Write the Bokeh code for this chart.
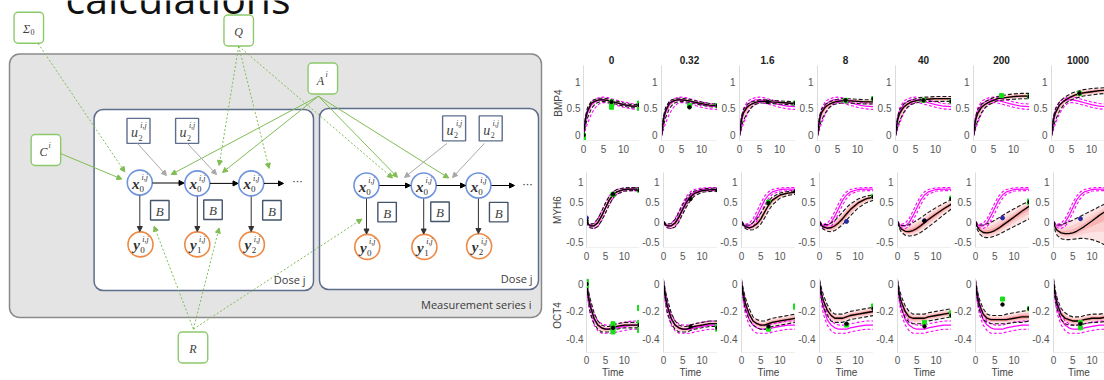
import numpy as np
from bokeh.plotting import figure
from bokeh.layouts import row, column
from bokeh.models import (Range1d, FixedTicker, Arrow, NormalHead,
                          ColumnDataSource, CustomJSTickFormatter)
from bokeh.core.properties import value
from bokeh.embed import file_html
from bokeh.resources import INLINE

# ---------------------------------------------------------------- data
DOSES = ["0", "0.32", "1.6", "8", "40", "200", "1000"]
GENES = ["BMP4", "MYH6", "OCT4"]
T = [0, 0.5, 1, 2, 3, 4, 5, 6, 7, 8, 10, 12, 14]
X_TICKS = [0, 5, 10]
Y_TICKS = [[0, 0.5, 1], [-0.5, 0, 0.5, 1], [-0.4, -0.2, 0]]
Y_LIMS = [(-0.1, 1.3), (-0.65, 1.25), (-0.5, 0.04)]

# reference (magenta) model, one per gene
BMP4_REF_MEAN = [0.00, 0.25, 0.42, 0.57, 0.63, 0.66, 0.66, 0.65, 0.63, 0.61, 0.57, 0.54, 0.53]
BMP4_REF_UP = [0.02, 0.33, 0.50, 0.63, 0.68, 0.70, 0.71, 0.70, 0.68, 0.66, 0.62, 0.59, 0.58]
BMP4_REF_LO = [-0.02, 0.10, 0.22, 0.40, 0.52, 0.59, 0.61, 0.60, 0.58, 0.56, 0.52, 0.49, 0.48]
MYH6_REF_MEAN = [0.00, -0.07, -0.10, -0.10, -0.02, 0.15, 0.35, 0.55, 0.68, 0.76, 0.82, 0.83, 0.83]
MYH6_REF_UP = [0.02, -0.04, -0.06, -0.04, 0.08, 0.27, 0.48, 0.65, 0.76, 0.82, 0.86, 0.87, 0.87]
MYH6_REF_LO = [-0.02, -0.10, -0.15, -0.17, -0.12, 0.03, 0.22, 0.43, 0.59, 0.70, 0.78, 0.79, 0.79]
OCT4_REF_MEAN = [0.01, -0.10, -0.17, -0.26, -0.30, -0.32, -0.33, -0.33, -0.33, -0.32, -0.31, -0.30, -0.30]
OCT4_REF_UP = [0.03, -0.06, -0.13, -0.22, -0.27, -0.29, -0.30, -0.30, -0.30, -0.29, -0.28, -0.27, -0.27]
OCT4_REF_LO = [-0.01, -0.14, -0.22, -0.30, -0.34, -0.36, -0.36, -0.36, -0.36, -0.35, -0.34, -0.33, -0.33]

# fitted model (black) per dose
BMP4_MEAN = [
    [0.00, 0.30, 0.45, 0.60, 0.64, 0.66, 0.66, 0.65, 0.63, 0.61, 0.57, 0.54, 0.54],
    [0.00, 0.30, 0.45, 0.60, 0.64, 0.66, 0.66, 0.65, 0.64, 0.62, 0.59, 0.56, 0.55],
    [0.00, 0.30, 0.42, 0.53, 0.58, 0.61, 0.63, 0.63, 0.63, 0.62, 0.61, 0.60, 0.59],
    [0.00, 0.30, 0.42, 0.53, 0.58, 0.61, 0.63, 0.64, 0.64, 0.64, 0.63, 0.62, 0.62],
    [0.00, 0.28, 0.40, 0.52, 0.58, 0.62, 0.64, 0.66, 0.67, 0.67, 0.68, 0.68, 0.68],
    [0.00, 0.28, 0.40, 0.52, 0.58, 0.62, 0.65, 0.68, 0.69, 0.70, 0.72, 0.73, 0.73],
    [0.00, 0.30, 0.42, 0.56, 0.63, 0.68, 0.72, 0.75, 0.77, 0.79, 0.81, 0.83, 0.84]]
BMP4_UP = [
    [0.02, 0.36, 0.51, 0.64, 0.67, 0.69, 0.69, 0.68, 0.66, 0.64, 0.60, 0.57, 0.57],
    [0.02, 0.36, 0.51, 0.64, 0.67, 0.69, 0.69, 0.68, 0.67, 0.65, 0.62, 0.59, 0.58],
    [0.02, 0.36, 0.48, 0.58, 0.62, 0.64, 0.66, 0.66, 0.66, 0.65, 0.64, 0.63, 0.62],
    [0.02, 0.36, 0.48, 0.58, 0.62, 0.65, 0.67, 0.68, 0.68, 0.68, 0.67, 0.66, 0.66],
    [0.02, 0.34, 0.47, 0.58, 0.63, 0.66, 0.68, 0.70, 0.71, 0.71, 0.72, 0.72, 0.72],
    [0.02, 0.34, 0.47, 0.58, 0.63, 0.67, 0.70, 0.72, 0.74, 0.75, 0.77, 0.78, 0.78],
    [0.02, 0.36, 0.49, 0.62, 0.69, 0.74, 0.78, 0.81, 0.83, 0.85, 0.87, 0.88, 0.89]]
BMP4_LO = [
    [-0.02, 0.18, 0.32, 0.50, 0.59, 0.62, 0.63, 0.62, 0.60, 0.58, 0.54, 0.51, 0.51],
    [-0.02, 0.18, 0.32, 0.50, 0.59, 0.62, 0.63, 0.62, 0.61, 0.59, 0.56, 0.53, 0.52],
    [-0.02, 0.16, 0.28, 0.42, 0.52, 0.57, 0.60, 0.60, 0.60, 0.59, 0.58, 0.57, 0.56],
    [-0.02, 0.16, 0.28, 0.42, 0.52, 0.57, 0.59, 0.60, 0.60, 0.60, 0.59, 0.58, 0.58],
    [-0.02, 0.14, 0.26, 0.42, 0.52, 0.57, 0.60, 0.62, 0.63, 0.63, 0.63, 0.63, 0.63],
    [-0.02, 0.14, 0.26, 0.42, 0.52, 0.57, 0.61, 0.64, 0.65, 0.66, 0.67, 0.68, 0.68],
    [-0.02, 0.16, 0.28, 0.45, 0.56, 0.62, 0.66, 0.69, 0.71, 0.73, 0.75, 0.77, 0.78]]

MYH6_MEAN = [
    [0.02, -0.06, -0.10, -0.10, -0.02, 0.15, 0.35, 0.55, 0.68, 0.76, 0.82, 0.83, 0.83],
    [0.00, -0.07, -0.10, -0.10, -0.03, 0.12, 0.32, 0.50, 0.63, 0.72, 0.79, 0.81, 0.82],
    [0.00, -0.08, -0.12, -0.15, -0.12, -0.05, 0.07, 0.25, 0.42, 0.55, 0.68, 0.73, 0.75],
    [0.00, -0.09, -0.13, -0.16, -0.15, -0.10, -0.02, 0.08, 0.20, 0.31, 0.48, 0.58, 0.63],
    [0.00, -0.12, -0.18, -0.24, -0.25, -0.22, -0.17, -0.10, -0.02, 0.06, 0.20, 0.33, 0.45],
    [0.00, -0.13, -0.20, -0.27, -0.28, -0.26, -0.22, -0.16, -0.09, -0.02, 0.12, 0.27, 0.40],
    [0.00, -0.15, -0.22, -0.28, -0.30, -0.30, -0.28, -0.24, -0.18, -0.12, 0.02, 0.17, 0.30]]
MYH6_UP = [
    [0.04, -0.03, -0.06, -0.04, 0.08, 0.27, 0.47, 0.65, 0.76, 0.82, 0.86, 0.87, 0.87],
    [0.02, -0.04, -0.06, -0.04, 0.06, 0.24, 0.44, 0.60, 0.71, 0.78, 0.83, 0.85, 0.86],
    [0.02, -0.05, -0.08, -0.08, -0.02, 0.08, 0.22, 0.38, 0.53, 0.63, 0.73, 0.77, 0.78],
    [0.02, -0.05, -0.07, -0.07, -0.03, 0.04, 0.14, 0.25, 0.36, 0.45, 0.58, 0.65, 0.68],
    [0.02, -0.07, -0.09, -0.10, -0.07, -0.02, 0.04, 0.10, 0.17, 0.24, 0.36, 0.47, 0.56],
    [0.02, -0.06, -0.08, -0.08, -0.05, -0.01, 0.04, 0.10, 0.16, 0.22, 0.33, 0.44, 0.52],
    [0.02, -0.06, -0.08, -0.07, -0.04, 0.00, 0.04, 0.09, 0.14, 0.19, 0.29, 0.39, 0.48]]
MYH6_LO = [
    [0.00, -0.10, -0.15, -0.17, -0.12, 0.03, 0.22, 0.43, 0.60, 0.70, 0.78, 0.79, 0.79],
    [-0.02, -0.10, -0.15, -0.17, -0.13, 0.00, 0.20, 0.39, 0.54, 0.65, 0.75, 0.77, 0.78],
    [-0.02, -0.11, -0.17, -0.21, -0.20, -0.15, -0.06, 0.10, 0.28, 0.43, 0.60, 0.67, 0.70],
    [-0.02, -0.13, -0.19, -0.24, -0.25, -0.22, -0.15, -0.07, 0.04, 0.15, 0.35, 0.48, 0.55],
    [-0.02, -0.17, -0.26, -0.34, -0.36, -0.35, -0.32, -0.27, -0.20, -0.13, 0.02, 0.18, 0.33],
    [-0.02, -0.20, -0.30, -0.39, -0.40, -0.39, -0.36, -0.32, -0.27, -0.22, -0.12, -0.02, 0.08],
    [-0.02, -0.25, -0.35, -0.43, -0.45, -0.45, -0.44, -0.43, -0.42, -0.42, -0.45, -0.52, -0.62]]

OCT4_MEAN = [
    [0.01, -0.09, -0.16, -0.25, -0.30, -0.32, -0.33, -0.33, -0.32, -0.31, -0.30, -0.30, -0.30],
    [0.01, -0.09, -0.16, -0.25, -0.30, -0.32, -0.33, -0.33, -0.32, -0.31, -0.30, -0.29, -0.29],
    [0.01, -0.08, -0.14, -0.22, -0.27, -0.29, -0.30, -0.30, -0.29, -0.28, -0.27, -0.26, -0.25],
    [0.01, -0.07, -0.12, -0.19, -0.23, -0.25, -0.25, -0.25, -0.24, -0.23, -0.22, -0.21, -0.20],
    [0.01, -0.08, -0.13, -0.20, -0.24, -0.25, -0.25, -0.25, -0.25, -0.24, -0.23, -0.22, -0.21],
    [0.01, -0.09, -0.15, -0.22, -0.25, -0.26, -0.26, -0.26, -0.26, -0.26, -0.25, -0.24, -0.24],
    [0.02, -0.09, -0.15, -0.22, -0.25, -0.26, -0.27, -0.27, -0.27, -0.26, -0.25, -0.25, -0.24]]
OCT4_UP = [
    [0.03, -0.05, -0.11, -0.21, -0.27, -0.30, -0.31, -0.31, -0.30, -0.29, -0.28, -0.28, -0.28],
    [0.03, -0.05, -0.11, -0.21, -0.27, -0.30, -0.31, -0.31, -0.30, -0.29, -0.28, -0.27, -0.27],
    [0.03, -0.04, -0.10, -0.18, -0.24, -0.26, -0.27, -0.27, -0.26, -0.25, -0.24, -0.23, -0.22],
    [0.03, -0.03, -0.08, -0.15, -0.20, -0.22, -0.22, -0.22, -0.21, -0.20, -0.19, -0.18, -0.17],
    [0.03, -0.04, -0.09, -0.16, -0.20, -0.22, -0.22, -0.22, -0.22, -0.21, -0.20, -0.19, -0.18],
    [0.03, -0.05, -0.11, -0.18, -0.22, -0.23, -0.23, -0.23, -0.23, -0.22, -0.21, -0.20, -0.19],
    [0.04, -0.05, -0.11, -0.18, -0.21, -0.23, -0.24, -0.24, -0.24, -0.23, -0.22, -0.22, -0.21]]
OCT4_LO = [
    [-0.01, -0.13, -0.21, -0.29, -0.33, -0.35, -0.35, -0.35, -0.34, -0.33, -0.32, -0.32, -0.32],
    [-0.01, -0.13, -0.21, -0.29, -0.33, -0.35, -0.35, -0.35, -0.34, -0.33, -0.32, -0.31, -0.31],
    [-0.01, -0.12, -0.19, -0.26, -0.30, -0.32, -0.33, -0.33, -0.32, -0.31, -0.30, -0.29, -0.28],
    [-0.01, -0.11, -0.17, -0.23, -0.27, -0.28, -0.28, -0.28, -0.27, -0.26, -0.25, -0.24, -0.23],
    [-0.01, -0.12, -0.18, -0.25, -0.28, -0.29, -0.29, -0.29, -0.28, -0.27, -0.26, -0.25, -0.24],
    [-0.01, -0.13, -0.19, -0.26, -0.28, -0.29, -0.29, -0.29, -0.29, -0.29, -0.28, -0.28, -0.27],
    [0.00, -0.13, -0.19, -0.26, -0.29, -0.30, -0.30, -0.30, -0.30, -0.29, -0.28, -0.28, -0.27]]

# measurements: replicate (green), mean (black), extra (blue)
BMP4_GREEN_COL = [0, 0, 0, 0, 0, 0, 0, 0, 0, 1, 1, 2, 3, 3, 4, 4, 5, 5, 6]
BMP4_GREEN_T = [0, 0, 0, 7, 7, 7, 14, 14, 14, 7, 14, 14, 7, 14, 7, 14, 7, 14, 7]
BMP4_GREEN_Y = [0.00, -0.04, -0.07, 0.62, 0.56, 0.52, 0.60, 0.55, 0.50, 0.55, 0.55, 0.60,
                0.65, 0.68, 0.65, 0.63, 0.74, 0.72, 0.78]
BMP4_BLACK_COL = [0, 0, 0, 1, 1, 2, 2, 3, 3, 4, 4, 5, 6]
BMP4_BLACK_T = [0, 7, 14, 7, 14, 7, 14, 7, 14, 7, 14, 14, 7]
BMP4_BLACK_Y = [0.00, 0.62, 0.56, 0.52, 0.55, 0.62, 0.60, 0.65, 0.68, 0.65, 0.63, 0.72, 0.78]
BMP4_BLUE_COL, BMP4_BLUE_T, BMP4_BLUE_Y = [], [], []

MYH6_GREEN_COL = [0, 0, 2, 3, 4, 5, 5]
MYH6_GREEN_T = [7, 14, 7, 14, 14, 14, 14]
MYH6_GREEN_Y = [0.70, 0.80, 0.50, 0.65, 0.60, 0.53, 0.49]
MYH6_BLACK_COL = [0, 0, 0, 1, 1, 2, 2, 3, 4, 4, 5]
MYH6_BLACK_T = [0, 7, 14, 7, 14, 7, 14, 14, 7, 14, 14]
MYH6_BLACK_Y = [0.03, 0.70, 0.80, 0.58, 0.80, 0.48, 0.77, 0.63, 0.02, 0.58, 0.50]
MYH6_BLUE_COL = [0, 3, 4, 5, 6]
MYH6_BLUE_T = [0, 7, 7, 7, 7]
MYH6_BLUE_Y = [0.10, 0.01, 0.03, 0.10, 0.08]

OCT4_GREEN_COL = [0, 0, 0, 0, 0, 0, 0, 0, 0, 0, 0, 0, 1, 1, 2, 2, 2, 3, 3, 4, 4, 4, 5, 5, 6, 6]
OCT4_GREEN_T = [0, 0, 0, 7, 7, 7, 7, 14, 14, 14, 14, 14, 14, 14, 7, 14, 14, 7, 14, 7, 14, 14,
                7, 14, 7, 7]
OCT4_GREEN_Y = [0.02, 0.00, -0.01, -0.29, -0.31, -0.33, -0.35, -0.17, -0.18, -0.28, -0.30,
                -0.34, -0.31, -0.33, -0.33, -0.16, -0.17, -0.30, -0.16, -0.28, -0.21, -0.23,
                -0.11, -0.18, -0.28, -0.32]
OCT4_BLACK_COL = [0, 0, 0, 1, 1, 2, 3, 3, 4, 4, 5, 5, 6]
OCT4_BLACK_T = [0, 7, 14, 7, 14, 7, 7, 14, 7, 14, 7, 14, 7]
OCT4_BLACK_Y = [0.00, -0.32, -0.30, -0.31, -0.32, -0.31, -0.29, -0.18, -0.31, -0.23, -0.15,
                -0.18, -0.29]
OCT4_BLUE_COL, OCT4_BLUE_T, OCT4_BLUE_Y = [], [], []

ROWS = [
    dict(ref=(BMP4_REF_MEAN, BMP4_REF_UP, BMP4_REF_LO), fit=(BMP4_MEAN, BMP4_UP, BMP4_LO),
         green=(BMP4_GREEN_COL, BMP4_GREEN_T, BMP4_GREEN_Y),
         black=(BMP4_BLACK_COL, BMP4_BLACK_T, BMP4_BLACK_Y),
         blue=(BMP4_BLUE_COL, BMP4_BLUE_T, BMP4_BLUE_Y)),
    dict(ref=(MYH6_REF_MEAN, MYH6_REF_UP, MYH6_REF_LO), fit=(MYH6_MEAN, MYH6_UP, MYH6_LO),
         green=(MYH6_GREEN_COL, MYH6_GREEN_T, MYH6_GREEN_Y),
         black=(MYH6_BLACK_COL, MYH6_BLACK_T, MYH6_BLACK_Y),
         blue=(MYH6_BLUE_COL, MYH6_BLUE_T, MYH6_BLUE_Y)),
    dict(ref=(OCT4_REF_MEAN, OCT4_REF_UP, OCT4_REF_LO), fit=(OCT4_MEAN, OCT4_UP, OCT4_LO),
         green=(OCT4_GREEN_COL, OCT4_GREEN_T, OCT4_GREEN_Y),
         black=(OCT4_BLACK_COL, OCT4_BLACK_T, OCT4_BLACK_Y),
         blue=(OCT4_BLUE_COL, OCT4_BLUE_T, OCT4_BLUE_Y)),
]

# ---------------------------------------------------------------- panel layout
BORDER_TOP = [65, 12, 11]
BORDER_BOTTOM = [20, 20, 27]
FRAME_H = 75
FRAME_W = [56, 56, 56, 56, 56, 56, 53]
BORDER_LEFT = [34, 22, 22, 22, 22, 22, 22]
X_END = [14, 14, 14, 14, 14, 14, 13.25]
SANS = "Liberation Sans"


def pick(cols, ts, ys, c):
    xs = [t for cc, t in zip(cols, ts) if cc == c]
    yy = [y for cc, y in zip(cols, ys) if cc == c]
    return xs, yy


def make_panel(r, c):
    ylo, yhi = Y_LIMS[r]
    p = figure(width=BORDER_LEFT[c] + FRAME_W[c],
               height=BORDER_TOP[r] + FRAME_H + BORDER_BOTTOM[r],
               x_range=Range1d(0, X_END[c]), y_range=Range1d(ylo, yhi),
               output_backend="svg", toolbar_location=None,
               title=DOSES[c] if r == 0 else None,
               min_border_left=BORDER_LEFT[c], min_border_right=0,
               min_border_top=BORDER_TOP[r], min_border_bottom=BORDER_BOTTOM[r])
    p.outline_line_color = None
    p.grid.visible = False
    p.background_fill_color = "white"
    p.border_fill_color = "white"
    if r == 0:
        p.title.align = "center"
        p.title.text_font = SANS
        p.title.text_font_size = "10px"
        p.title.text_font_style = "bold"
        p.title.text_color = "#222222"
        p.title.standoff = 3
        p.title.offset = 0
    p.xaxis.ticker = FixedTicker(ticks=X_TICKS)
    p.yaxis.ticker = FixedTicker(ticks=Y_TICKS[r])
    fmt = "return tick.toString();"
    p.xaxis.formatter = CustomJSTickFormatter(code=fmt)
    p.yaxis.formatter = CustomJSTickFormatter(code=fmt)
    for ax in (p.xaxis[0], p.yaxis[0]):
        ax.major_tick_line_color = None
        ax.minor_tick_line_color = None
        ax.major_tick_out = 0
        ax.major_tick_in = 0
        ax.minor_tick_out = 0
        ax.minor_tick_in = 0
        ax.major_label_text_font = SANS
        ax.major_label_text_font_size = "10px"
        ax.major_label_text_color = "#555555"
        ax.axis_label_text_font = SANS
        ax.axis_label_text_font_size = "10px"
        ax.axis_label_text_font_style = "normal"
        ax.axis_label_text_color = "#444444"
        ax.axis_label_standoff = 0
    p.yaxis.axis_line_color = "#dcdcdc"
    p.xaxis.axis_line_color = "#efefef"
    p.yaxis.major_label_standoff = 3 if c == 0 else 4
    p.xaxis.major_label_standoff = 3 if r == 2 else 4
    if c == 0:
        p.yaxis.axis_label = GENES[r]
    if r == 2:
        p.xaxis.axis_label = "Time"

    tt = np.array(T, dtype=float)
    data = ROWS[r]
    fm, fu, fl = (np.array(a[c]) for a in data["fit"])
    rm, ru, rl = (np.array(a) for a in data["ref"])

    # density-like band around the fitted mean: a wide band fades out
    scale = FRAME_H / (yhi - ylo)
    spread_px = float(np.mean(fu - fl)) * scale
    a_in = float(np.clip(4.0 / spread_px, 0.15, 0.75))
    p.varea(x=tt, y1=fl, y2=fu, fill_color="#fcdada", fill_alpha=0.75)
    p.varea(x=tt, y1=fm - (fm - fl) * 0.6, y2=fm + (fu - fm) * 0.6,
            fill_color="#f7a8a8", fill_alpha=min(0.6, a_in + 0.1))
    p.varea(x=tt, y1=fm - (fm - fl) * 0.28, y2=fm + (fu - fm) * 0.28,
            fill_color="#ee3b3b", fill_alpha=a_in)

    # reference model (magenta)
    for arr in (ru, rl):
        p.line(tt, arr, line_color="#ff00ff", line_width=1.1, line_dash="3 2")
    p.line(tt, rm, line_color="#ff00ff", line_width=1.2)

    # fitted model (black)
    for arr in (fu, fl):
        p.line(tt, arr, line_color="#1a1a1a", line_width=1.1, line_dash="4 2")
    p.line(tt, fm, line_color="black", line_width=1.3)

    gx, gy = pick(*data["green"], c)
    p.scatter(gx, gy, marker="square", size=4, fill_color="#18e018", line_color="#18e018")
    bx, by = pick(*data["blue"], c)
    p.scatter(bx, by, marker="circle", size=4, fill_color="#2a2aa0", line_color="#2a2aa0")
    kx, ky = pick(*data["black"], c)
    p.scatter(kx, ky, marker="circle", size=3.5, fill_color="black", line_color="black")
    return p


grid = column([row([make_panel(r, c) for c in range(7)]) for r in range(3)])

# ---------------------------------------------------------------- diagram
d = figure(width=549, height=380, x_range=Range1d(0, 549), y_range=Range1d(380, 0),
           output_backend="svg", toolbar_location=None, x_axis_location=None,
           y_axis_location=None, min_border=0)
d.grid.visible = False
d.outline_line_color = None
d.background_fill_color = "white"
d.border_fill_color = "white"

SERIF = value("Liberation Serif")

# heading text (cut off at the top, as in the slide)
d.text(x=[65], y=[-3], text=["calculations"], text_font=value("Open Sans"),
       text_font_size="41px", text_baseline="alphabetic", text_align="left",
       text_color="#111111")

# containers
d.quad(left=[9], right=[541], top=[53.5], bottom=[317], fill_color="#e4e4e4",
       line_color="#8a8a8a", line_width=1.5, border_radius=10)
d.quad(left=[93.6, 319], right=[313, 538], top=[109, 108], bottom=[290, 289],
       fill_color="white", line_color="#5e6d8c", line_width=1.5, border_radius=9)
d.text(x=[305, 532], y=[279, 278], text=["Dose j", "Dose j"], text_font=value("Open Sans"),
       text_font_size="11px", text_align="right", text_baseline="middle", text_color="#3a3a3a")
d.text(x=[531], y=[304], text=["Measurement series i"], text_font=value("Open Sans"),
       text_font_size="11px", text_align="right", text_baseline="middle", text_color="#3a3a3a")


def arrows(x0, y0, x1, y1, color, dash="solid", width=1.0, head=5):
    src = ColumnDataSource(dict(x0=x0, y0=y0, x1=x1, y1=y1))
    d.add_layout(Arrow(end=NormalHead(size=head, fill_color=color, line_color=color),
                       x_start="x0", y_start="y0", x_end="x1", y_end="y1", source=src,
                       line_color=color, line_width=width, line_dash=dash))


GREEN = "#80bd55"
arrows([60, 317.9, 317.9, 317.9, 317.9], [153, 95.7, 95.7, 95.7, 95.7],
       [121.4, 170.7, 222, 397, 448.2], [178.6, 174, 172, 176.8, 177.5], GREEN)
arrows([37.5, 238.2, 238.2, 238.2, 192.9, 192.9, 192.9],
       [42.9, 45.7, 45.7, 45.7, 328.6, 328.6, 328.6],
       [124.3, 218.6, 268.6, 392, 153.6, 218.6, 361.4],
       [171.4, 165, 167.9, 177.5, 225.7, 227.5, 218.6], GREEN, dash="2 2")
arrows([137, 187, 446.4, 483.9], [143, 143, 142.9, 142.9],
       [166, 216, 404, 452], [175, 174, 177, 177], "#a8a8a8")
arrows([152, 209.5, 263.5, 379, 436, 491], [182.5, 182.9, 182.9, 185, 185, 185],
       [183.5, 237.5, 283, 410, 465, 514], [182.5, 182.9, 182.9, 185, 185, 185], "black")
arrows([139.3, 196.8, 250.7, 366, 423.2, 477.9], [195, 196, 196, 198, 198, 198],
       [139.3, 196.8, 250.7, 366, 423.2, 477.9], [231, 231, 231, 233.5, 233.5, 233],
       "#333333")
d.text(x=[297, 527], y=[181, 184], text=["···", "···"], text_font=value("DejaVu Sans"),
       text_font_size="11px", text_align="center", text_baseline="middle", text_color="#333")

# green parameter boxes
GX = [28.3, 238.2, 322.3, 45.4, 192.5]
GY = [27.2, 30, 78, 149.5, 347]
d.rect(x=GX, y=GY, width=29.5, height=31, fill_color="white", line_color="#8cc96b",
       line_width=1.4, border_radius=4)
d.text(x=[26, 238.2, 320, 43, 192.5], y=[28, 31, 80, 151, 348],
       text=["Σ", "Q", "A", "C", "R"], text_font=SERIF, text_font_style="italic",
       text_font_size="12px", text_align="center", text_baseline="middle", text_color="#404040")
d.text(x=[32], y=[31], text=["0"], text_font=SERIF, text_font_size="8px",
       text_align="center", text_baseline="middle", text_color="#404040")
d.text(x=[326, 49], y=[74, 145], text=["i", "i"], text_font=SERIF, text_font_style="italic",
       text_font_size="8px", text_align="center", text_baseline="middle", text_color="#404040")

# u boxes and B boxes
UX = [138, 186.6, 453.6, 490.2]
UY = [130.4, 130.4, 127.9, 127.9]
d.rect(x=UX, y=UY, width=23, height=25, fill_color="white", line_color="#5e6d8c",
       line_width=1.4)
d.text(x=[v - 4 for v in UX], y=[v + 2 for v in UY], text=["u"] * 4, text_font=SERIF,
       text_font_style="italic", text_font_size="14px", text_align="center",
       text_baseline="middle", text_color="#404040")
d.text(x=[v + 2 for v in UX], y=[v + 7 for v in UY], text=["2"] * 4, text_font=SERIF,
       text_font_size="8px", text_align="center", text_baseline="middle", text_color="#404040")
d.text(x=[v + 5 for v in UX], y=[v - 5 for v in UY], text=["i,j"] * 4, text_font=SERIF,
       text_font_style="italic", text_font_size="8px", text_align="center",
       text_baseline="middle", text_color="#404040")

BX = [159.3, 212.5, 271.4, 386.6, 439.5, 498.2]
BY = [209.8, 209.3, 209.8, 211.6, 211.3, 211.6]
d.rect(x=BX, y=BY, width=18.5, height=19.5, fill_color="white", line_color="#44546a",
       line_width=1.4)
d.text(x=BX, y=[v + 1 for v in BY], text=["B"] * 6, text_font=SERIF, text_font_style="italic",
       text_font_size="13px", text_align="center", text_baseline="middle", text_color="#404040")

# state and observation nodes
XX = [139.3, 196.8, 250.7, 366, 423.2, 477.9]
XY = [182.1, 182.9, 182.9, 185, 185, 185]
YX = [140, 196.8, 251.4, 366.8, 423.9, 478.6]
YY = [243.9, 243.9, 243.9, 246.4, 246.4, 245.7]
d.circle(x=XX, y=XY, radius=12.5, fill_color="white", line_color="#7094dc", line_width=1.6)
d.circle(x=YX, y=YY, radius=12.5, fill_color="white", line_color="#ee8a45", line_width=1.6)
for nx, ny, letter, subs in ((XX, XY, "x", ["0"] * 6),
                             (YX, YY, "y", ["0", "1", "2", "0", "1", "2"])):
    d.text(x=[v - 4 for v in nx], y=[v + 1 for v in ny], text=[letter] * 6, text_font=SERIF,
           text_font_style="bold italic", text_font_size="15px", text_align="center",
           text_baseline="middle", text_color="#303030")
    d.text(x=[v + 2 for v in nx], y=[v + 6 for v in ny], text=subs, text_font=SERIF,
           text_font_size="9px", text_align="center", text_baseline="middle",
           text_color="#303030")
    d.text(x=[v + 5 for v in nx], y=[v - 5 for v in ny], text=["i,j"] * 6, text_font=SERIF,
           text_font_style="italic", text_font_size="8px", text_align="center",
           text_baseline="middle", text_color="#303030")

page = row(d, grid)
open("out.html", "w").write(file_html(page, INLINE))
